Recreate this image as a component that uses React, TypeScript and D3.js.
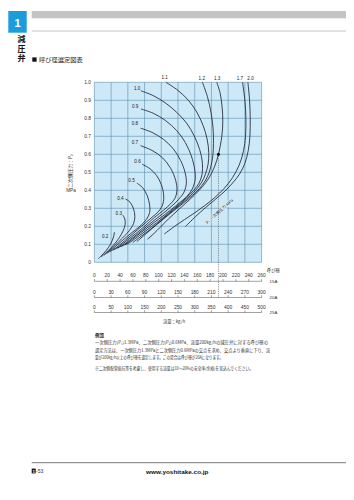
import React from 'react';
import * as d3 from 'd3';

// ---- data ----
const pressureTicks = [0, 0.1, 0.2, 0.3, 0.4, 0.5, 0.6, 0.7, 0.8, 0.9, 1.0];
const flow15A = [0, 20, 40, 60, 80, 100, 120, 140, 160, 180, 200, 220, 240, 260];
const flow20A = [0, 30, 60, 90, 120, 150, 180, 210, 240, 270, 300];
const flow25A = [0, 50, 100, 150, 200, 250, 300, 350, 400, 450, 500];

// curves: [flow (25A kg/h scale), P2 MPa], top start -> bottom end
const c02 = [[60,0.168],[57,0.14],[48,0.1],[34,0.063],[21,0.037],[12,0.02]];
const c03 = [[85,0.262],[91,0.24],[92,0.21],[86,0.175],[72,0.13],[52,0.085],[34,0.052],[20,0.03]];
const c04 = [[93,0.352],[107,0.333],[117,0.297],[121,0.255],[117,0.215],[104,0.175],[84,0.135],[62,0.095],[44,0.063],[29,0.04]];
const c05 = [[127,0.44],[145,0.413],[158,0.37],[165,0.32],[165,0.275],[156,0.24],[136,0.2],[112,0.165],[88,0.128],[63,0.088],[39,0.05]];
const c06 = [[143,0.545],[166,0.52],[186,0.482],[200,0.432],[207,0.375],[205,0.325],[193,0.285],[172,0.25],[141,0.2],[116,0.16],[92,0.122],[68,0.085],[47,0.06]];
const c07 = [[138,0.648],[172,0.622],[204,0.58],[228,0.522],[243,0.455],[247,0.4],[242,0.36],[228,0.325],[207,0.29],[180,0.25],[150,0.2],[124,0.16],[100,0.125],[76,0.09],[57,0.068]];
const c08 = [[138,0.745],[172,0.722],[206,0.684],[236,0.63],[258,0.565],[271,0.5],[275,0.44],[268,0.39],[252,0.35],[230,0.31],[204,0.27],[180,0.235],[157,0.2],[132,0.162],[108,0.127],[85,0.095],[68,0.078]];
const c09 = [[139,0.852],[176,0.828],[213,0.787],[246,0.732],[272,0.665],[290,0.59],[300,0.515],[301,0.455],[292,0.405],[276,0.365],[254,0.33],[229,0.292],[204,0.256],[181,0.225],[164,0.2],[139,0.165],[115,0.13],[94,0.102],[80,0.088]];
const c10 = [[139,0.953],[177,0.925],[214,0.883],[248,0.83],[277,0.77],[299,0.7],[315,0.625],[323,0.55],[322,0.49],[313,0.44],[297,0.4],[276,0.36],[252,0.32],[226,0.28],[200,0.24],[172,0.2],[148,0.167],[124,0.134],[104,0.108],[92,0.097]];
const c11 = [[214,1.0],[250,0.955],[281,0.9],[306,0.835],[325,0.76],[337,0.685],[342,0.61],[340,0.545],[332,0.49],[321,0.445],[305,0.405],[286,0.368],[262,0.33],[236,0.29],[210,0.25],[182,0.205],[158,0.17],[135,0.138],[115,0.11]];
const c12 = [[323,1.0],[338,0.92],[349,0.83],[355,0.74],[356,0.66],[354,0.59],[348,0.53],[338,0.475],[323,0.43],[304,0.39],[280,0.35],[253,0.31],[226,0.27],[200,0.23],[174,0.19],[150,0.152],[127,0.115]];
const c13 = [[366,1.0],[376,0.94],[382,0.86],[384,0.78],[381,0.7],[371,0.6],[359,0.53],[343,0.47],[323,0.42],[300,0.375],[274,0.33],[247,0.285],[221,0.24],[197,0.195],[178,0.16],[159,0.128]];
const c17 = [[443,1.0],[450,0.9],[453,0.8],[452,0.7],[446,0.62],[433,0.54],[413,0.47],[388,0.41],[360,0.36],[330,0.315],[300,0.275],[270,0.238],[240,0.2],[209,0.157]];
const c20 = [[459,1.0],[464,0.9],[466,0.8],[465,0.7],[460,0.62],[450,0.55],[434,0.49],[413,0.44],[390,0.395],[362,0.35],[333,0.305],[303,0.255],[272,0.198]];

const curveNames = ['0.2','0.3','0.4','0.5','0.6','0.7','0.8','0.9','1.0','1.1','1.2','1.3','1.7','2.0'];
const curveData = [c02,c03,c04,c05,c06,c07,c08,c09,c10,c11,c12,c13,c17,c20];
const labelFlow = [32, 73, 78, 111, 129, 121, 121, 122, 128, 210, 321, 367, 435, 467];
const labelP2 = [0.146, 0.272, 0.357, 0.457, 0.562, 0.665, 0.77, 0.868, 0.967, 1.025, 1.02, 1.02, 1.02, 1.02];

const exampleFlow = 371; // 25A-scale position of the example point
const exampleP2 = 0.6;

const noteLines = [
  '一次側圧力(P₁)1.3MPa、二次側圧力(P₂)0.6MPa、流量200kg/hの減圧弁に対する呼び径の',
  '選定方法は、一次側圧力1.3MPaと二次側圧力0.6MPaの交点を求め、交点より垂直に下り、流',
  '量が200kg/h以上の呼び径を選定します。この場合は呼び径が20Aになります。',
];
const noteWidths = [173, 175, 128];
const footNote = '※二次側配管抵抗等を考慮し、使用する流量は10〜20%の安全率(余裕)を見込んでください。';
const sideChars = ['減', '圧', '弁'];

const NUM = "'Liberation Sans', Arial, sans-serif";
const JP = "'Noto Sans CJK JP', 'Noto Sans', sans-serif";

export default function App() {
  const plotL = 94.4, plotR = 261.6, plotT = 82.3, plotB = 262.3;
  const x = d3.scaleLinear().domain([0, 500]).range([plotL, plotR]);
  const y = d3.scaleLinear().domain([0, 1]).range([plotB, plotT]);
  const x15 = d3.scaleLinear().domain([0, 260]).range([plotL, plotR]);
  const x20 = d3.scaleLinear().domain([0, 300]).range([plotL, plotR]);
  const x25 = d3.scaleLinear().domain([0, 500]).range([plotL, plotR]);
  const line = d3.line<number[]>()
    .x(d => x(d[0]))
    .y(d => y(d[1]))
    .curve(d3.curveCatmullRom.alpha(0.5));

  const axes = [
    { s: x15, ticks: flow15A, ly: 277.4, ay: 281.3, name: '15A' },
    { s: x20, ticks: flow20A, ly: 293.8, ay: 297.5, name: '20A' },
    { s: x25, ticks: flow25A, ly: 308.6, ay: 312.5, name: '25A' },
  ];

  const gridColor = '#5b8fb0';

  return (
    <svg width={354} height={500} viewBox="0 0 354 500"
      style={{ position: 'absolute', left: 0, top: 0, background: '#fff' }}>
      {/* header */}
      <rect x={8.3} y={11} width={18.4} height={21.7} fill="#1b9ddb" />
      <text x={17.5} y={27} textAnchor="middle" fontSize={11} fontWeight="bold" fill="#fff" fontFamily={NUM}>1</text>
      <rect x={31.7} y={11} width={314.3} height={7.3} fill="#c4c4c6" />
      <line x1={31.7} x2={346} y1={31} y2={31} stroke="#a9a9a9" strokeWidth={0.7} />
      {sideChars.map((c, i) => (
        <text key={c} x={21.6} y={42.2 + i * 9.6} textAnchor="middle" fontSize={8} fontWeight="bold" fontFamily={JP} fill="#111">{c}</text>
      ))}
      <rect x={32.3} y={57.4} width={4.3} height={4.3} fill="#111" />
      <text x={39} y={62} fontSize={6.2} fontFamily={JP} fill="#222" textLength={43.7} lengthAdjust="spacingAndGlyphs">呼び径選定図表</text>

      {/* plot background */}
      <rect x={plotL} y={plotT} width={plotR - plotL} height={plotB - plotT} fill="#cde8f6" />
      {flow25A.map(v => (
        <line key={'gx' + v} x1={x25(v)} x2={x25(v)} y1={plotT} y2={plotB} stroke={gridColor} strokeWidth={0.6} />
      ))}
      {pressureTicks.map(v => (
        <line key={'gy' + v} x1={plotL} x2={plotR} y1={y(v)} y2={y(v)} stroke={gridColor} strokeWidth={0.6} />
      ))}

      {/* y tick labels */}
      {pressureTicks.map(v => (
        <text key={'ty' + v} x={91} y={y(v) + 1.8} textAnchor="end" fontSize={4.9} fontFamily={NUM} fill="#333">
          {v === 0 ? '0' : v.toFixed(1)}
        </text>
      ))}
      <text transform={`translate(70.5,171) rotate(-90)`} textAnchor="middle" fontSize={4.8} fontFamily={JP} fill="#333" dy="0.35em">二次側圧力：P₂</text>
      <text x={71} y={192.3} textAnchor="middle" fontSize={4.6} fontFamily={NUM} fill="#333">MPa</text>

      {/* curves */}
      {curveData.map((pts, i) => (
        <path key={'c' + i} d={line(pts) || ''} fill="none" stroke="#14182a" strokeWidth={0.8} />
      ))}
      {curveNames.map((n, i) => (
        <text key={'l' + n} x={x(labelFlow[i])} y={y(labelP2[i])} dy="0.35em" textAnchor="middle" fontSize={4.6} fontFamily={NUM} fill="#222">{n}</text>
      ))}

      {/* diagonal family label */}
      <text transform={`translate(${x(374)},${y(0.283)}) rotate(-42)`} textAnchor="middle" dy="0.35em" fontSize={4.2} fontFamily={JP} fill="#222"
        stroke="#e4f2fa" strokeWidth={1.4} paintOrder="stroke">P₁ 一次側圧力 MPa</text>

      {/* example: dashed line and point */}
      <line x1={x(exampleFlow)} x2={x(exampleFlow)} y1={y(exampleP2)} y2={297.5} stroke="#333" strokeWidth={0.55} strokeDasharray="0.9 0.9" />
      <circle cx={x(exampleFlow)} cy={y(exampleP2)} r={1.5} fill="#000" />

      {/* flow axes */}
      {axes.map(a => (
        <g key={a.name}>
          <line x1={plotL} x2={plotR} y1={a.ay} y2={a.ay} stroke="#444" strokeWidth={0.5} />
          {a.ticks.map(t => (
            <g key={t}>
              <line x1={a.s(t)} x2={a.s(t)} y1={a.ay} y2={a.ay - 2.2} stroke="#444" strokeWidth={0.5} />
              <text x={a.s(t)} y={a.ly} textAnchor="middle" fontSize={4.9} fontFamily={NUM} fill="#333">{t}</text>
            </g>
          ))}
          <text x={273.5} y={a.ay + 1.6} textAnchor="middle" fontSize={4.4} fontFamily={NUM} fill="#333">{a.name}</text>
        </g>
      ))}
      <text x={273.3} y={271.6} textAnchor="middle" fontSize={4.3} fontFamily={JP} fill="#333">呼び径</text>
      <text x={174} y={322.6} textAnchor="middle" fontSize={4.3} fontFamily={JP} fill="#333">流量：kg/h</text>

      {/* notes */}
      <text x={95} y={336.8} fontSize={4.4} fontWeight="bold" fontFamily={JP} fill="#222">例題</text>
      {noteLines.map((t, i) => (
        <text key={'n' + i} x={95} y={344.1 + i * 7.6} fontSize={4.3} fontFamily={JP} fill="#333"
          textLength={noteWidths[i]} lengthAdjust="spacingAndGlyphs">{t}</text>
      ))}
      <text x={95} y={370} fontSize={4.3} fontFamily={JP} fill="#333" textLength={158} lengthAdjust="spacingAndGlyphs">{footNote}</text>

      {/* footer */}
      <line x1={31.7} x2={346} y1={462.7} y2={462.7} stroke="#555" strokeWidth={0.8} />
      <rect x={31.7} y={468.6} width={4} height={4.8} fill="#111" />
      <text x={33.7} y={472.7} textAnchor="middle" fontSize={4.4} fontWeight="bold" fontFamily={NUM} fill="#fff">1</text>
      <text x={36} y={473.2} fontSize={5} fontFamily={NUM} fill="#333">-53</text>
      <text x={146} y={473.6} fontSize={6.2} fontWeight="bold" fontFamily={NUM} fill="#111" textLength={62.5} lengthAdjust="spacingAndGlyphs">www.yoshitake.co.jp</text>
    </svg>
  );
}
